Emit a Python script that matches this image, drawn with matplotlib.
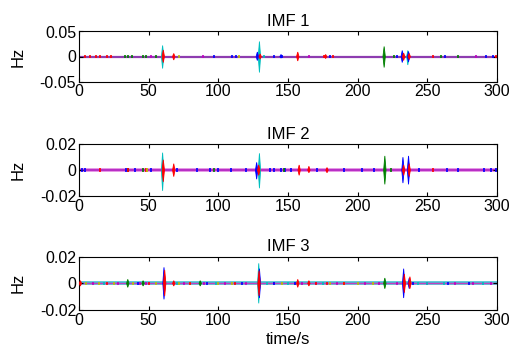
import matplotlib
matplotlib.use("Agg")
import matplotlib.pyplot as plt

# === DATA ===
titles = ["IMF 1", "IMF 2", "IMF 3"]
y_limits = [0.05, 0.02, 0.02]
x_ticks = [0, 50, 100, 150, 200, 250, 300]

# bursts: time (s), upper and lower excursion (Hz), colour code
imf1_t = [60, 60.5, 68, 129.5, 128, 130, 145, 157, 177, 219, 232, 233, 236, 236.5, 237]
imf1_top = [0.022, 0.013, 0.006, 0.030, 0.009, 0.005, 0.004, 0.009, 0.004, 0.020, 0.012, 0.007, 0.012, 0.010, 0.006]
imf1_bot = [-0.024, -0.012, -0.007, -0.032, -0.008, -0.005, -0.003, -0.009, -0.004, -0.022, -0.012, -0.008, -0.017, -0.011, -0.006]
imf1_col = ["c", "r", "r", "c", "b", "r", "b", "r", "r", "g", "b", "r", "c", "b", "r"]

imf2_t = [60, 60.5, 68, 129.5, 127.5, 129, 158, 165, 178, 219.5, 232.5, 236.5, 233, 237]
imf2_top = [0.0135, 0.008, 0.005, 0.013, 0.006, 0.004, 0.004, 0.003, 0.002, 0.011, 0.010, 0.011, 0.004, 0.005]
imf2_bot = [-0.016, -0.009, -0.005, -0.014, -0.007, -0.004, -0.004, -0.002, -0.002, -0.011, -0.010, -0.011, -0.004, -0.005]
imf2_col = ["c", "r", "r", "c", "b", "r", "r", "r", "r", "g", "b", "b", "r", "r"]

imf3_t = [1, 35, 46, 87, 61, 61.5, 68, 129, 129.5, 129.2, 157, 165, 219.5, 233, 233.5, 237, 237.5]
imf3_top = [0.002, 0.003, 0.002, 0.002, 0.012, 0.010, 0.002, 0.015, 0.011, 0.0095, 0.003, 0.002, 0.004, 0.011, 0.007, 0.004, 0.005]
imf3_bot = [-0.002, -0.003, -0.002, -0.002, -0.012, -0.0095, -0.002, -0.015, -0.011, -0.0095, -0.003, -0.002, -0.004, -0.011, -0.007, -0.004, -0.004]
imf3_col = ["r", "g", "g", "g", "b", "r", "r", "c", "b", "r", "r", "r", "g", "b", "r", "b", "r"]

# small wiggles along the zero line: time, half height, colour
imf1_noise_t = [4, 8, 12, 15, 20, 23, 176, 182, 254, 299, 33, 35, 38, 46, 48, 55, 226, 260, 272,
                52, 89, 165, 285, 97, 110, 113, 140, 146, 180, 228, 263, 292, 297, 72, 115, 133]
imf1_noise_h = [0.003] * 36
imf1_noise_col = ["r"] * 10 + ["g"] * 9 + ["m"] * 4 + ["b"] * 10 + ["y"] * 2 + ["c"]

imf2_noise_t = [2, 4, 34, 40, 52, 70, 85, 94, 100, 109, 120, 137, 140, 145, 148, 152, 171, 190, 203,
                212, 244, 264, 272, 291, 296, 299, 35, 46, 97, 147, 224, 15, 35, 48, 254, 49, 130]
imf2_noise_h = [0.0015] * 37
imf2_noise_col = ["b"] * 26 + ["g"] * 5 + ["r"] * 4 + ["y"] * 2

imf3_noise_t = [5, 14, 25, 39, 55, 72, 80, 100, 110, 146, 180, 190, 200, 211,
                10, 28, 44, 48, 75, 90, 105, 120, 140, 160, 170, 185, 205, 215, 228, 250, 270, 283, 296,
                18, 70, 98, 135, 150, 175, 243, 250, 262, 290,
                20, 50, 80, 112, 170, 178, 190,
                42, 92, 117, 140, 155, 240, 265, 280]
imf3_noise_h = [0.0012] * 58
imf3_noise_col = ["y"] * 14 + ["m"] * 19 + ["c"] * 10 + ["r"] * 7 + ["b"] * 8

# MATLAB-style line colours
matlab_colors = {"b": "#0000FF", "g": "#008000", "r": "#FF0000", "c": "#00BFBF",
                 "m": "#BF00BF", "y": "#BFBF00", "k": "#000000"}

plt.rcParams["font.family"] = ["Liberation Sans", "DejaVu Sans"]
plt.rcParams["font.size"] = 11.5

fig = plt.figure(figsize=(5.11, 3.60), dpi=100)
W, H = 511.0, 360.0
ax_boxes = [(31.5, 81.5), (144.3, 196.0), (256.7, 310.0)]  # top, bottom in px

panels = [
    (imf1_t, imf1_top, imf1_bot, imf1_col, imf1_noise_t, imf1_noise_h, imf1_noise_col),
    (imf2_t, imf2_top, imf2_bot, imf2_col, imf2_noise_t, imf2_noise_h, imf2_noise_col),
    (imf3_t, imf3_top, imf3_bot, imf3_col, imf3_noise_t, imf3_noise_h, imf3_noise_col),
]

for i, (bt, btop, bbot, bcol, nt, nh, ncol) in enumerate(panels):
    top, bottom = ax_boxes[i]
    ax = fig.add_axes([79 / W, 1 - bottom / H, 418 / W, (bottom - top) / H])
    lim = y_limits[i]

    # zero line (many overlapping traces)
    if i == 0:
        ax.axhline(0, color="#8E3CB0", lw=1.6, zorder=1)
    elif i == 1:
        ax.axhline(0, color="#E080E0", lw=2.6, zorder=1)
        ax.axhline(0, color="#B020C0", lw=1.2, zorder=1)
    else:
        ax.axhline(0, color="#40C0D0", lw=2.6, zorder=1)
        ax.axhline(0, color="#C040C0", lw=1.0, zorder=1)

    # small wiggles
    ax.vlines(nt, [-h for h in nh], nh, colors=[matlab_colors[c] for c in ncol], lw=1.2, zorder=2)

    # bursts as narrow spindles
    half_w = 0.85
    for t, a, b, c in zip(bt, btop, bbot, bcol):
        ax.fill([t - half_w, t, t + half_w, t], [0, a, 0, b],
                color=matlab_colors[c], lw=0.6, ec=matlab_colors[c], zorder=3)

    ax.set_xlim(0, 300)
    ax.set_ylim(-lim, lim)
    ax.set_xticks(x_ticks)
    ax.set_yticks([-lim, 0, lim])
    ax.set_yticklabels([f"-{lim:g}", "0", f"{lim:g}"])
    ax.tick_params(direction="in", top=True, right=True, length=3, width=0.8, pad=2, labelsize=11.5)
    for s in ax.spines.values():
        s.set_linewidth(0.8)
    ax.set_title(titles[i], fontsize=12, pad=4)
    ax.set_ylabel("Hz", fontsize=12, labelpad=10)
    if i == 2:
        ax.set_xlabel("time/s", fontsize=12, labelpad=3)

fig.savefig("out.png", dpi=100)
